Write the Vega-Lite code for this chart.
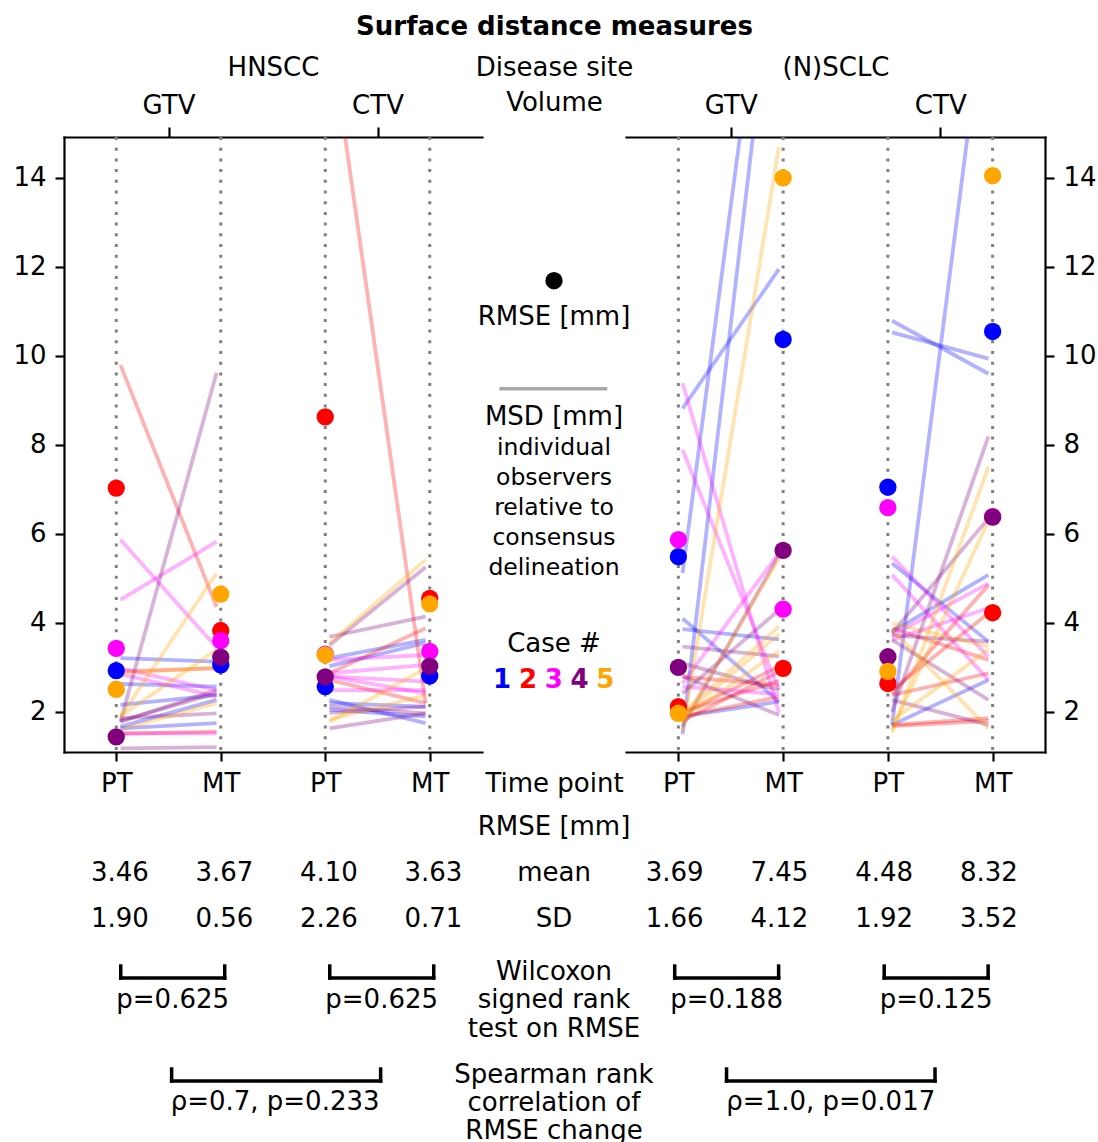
{
  "$schema": "https://vega.github.io/schema/vega-lite/v6.json",
  "background": "white",
  "padding": {"left": 12, "top": 14, "right": 0, "bottom": 0},
  "config": {
    "font": "DejaVu Sans",
    "view": {"stroke": null},
    "axis": {"grid": false, "labelFont": "DejaVu Sans", "labelFontSize": 26, "labelColor": "black", "titleFont": "DejaVu Sans", "titleFontSize": 26, "titleFontWeight": "normal", "titleColor": "black", "domainColor": "black", "domainWidth": 2.2, "domainCap": "square", "tickColor": "black", "tickWidth": 2.2, "tickSize": 9, "labelPadding": 9, "labelFlush": false, "labelOverlap": false},
    "text": {"font": "DejaVu Sans", "fontSize": 26, "color": "black"}
  },
  "title": {"text": "Surface distance measures", "font": "DejaVu Sans", "fontSize": 26, "fontWeight": "bold", "color": "black", "anchor": "middle", "offset": 14},
  "datasets": {
    "tps": [
      {"vol": "GTV", "tp": "PT"}, {"vol": "GTV", "tp": "MT"}, {"vol": "CTV", "tp": "PT"}, {"vol": "CTV", "tp": "MT"}
    ],
    "cases": [{"case": 1}, {"case": 2}, {"case": 3}, {"case": 4}, {"case": 5}],
    "rmse": [
      {"site": "HNSCC", "vol": "GTV", "tp": "PT", "case": 1, "rmse": 2.93},
      {"site": "HNSCC", "vol": "GTV", "tp": "MT", "case": 1, "rmse": 3.06},
      {"site": "HNSCC", "vol": "CTV", "tp": "PT", "case": 1, "rmse": 2.57},
      {"site": "HNSCC", "vol": "CTV", "tp": "MT", "case": 1, "rmse": 2.81},
      {"site": "(N)SCLC", "vol": "GTV", "tp": "PT", "case": 1, "rmse": 5.49},
      {"site": "(N)SCLC", "vol": "GTV", "tp": "MT", "case": 1, "rmse": 10.37},
      {"site": "(N)SCLC", "vol": "CTV", "tp": "PT", "case": 1, "rmse": 7.05},
      {"site": "(N)SCLC", "vol": "CTV", "tp": "MT", "case": 1, "rmse": 10.55},
      {"site": "HNSCC", "vol": "GTV", "tp": "PT", "case": 2, "rmse": 7.03},
      {"site": "HNSCC", "vol": "GTV", "tp": "MT", "case": 2, "rmse": 3.83},
      {"site": "HNSCC", "vol": "CTV", "tp": "PT", "case": 2, "rmse": 8.63},
      {"site": "HNSCC", "vol": "CTV", "tp": "MT", "case": 2, "rmse": 4.55},
      {"site": "(N)SCLC", "vol": "GTV", "tp": "PT", "case": 2, "rmse": 2.12},
      {"site": "(N)SCLC", "vol": "GTV", "tp": "MT", "case": 2, "rmse": 2.98},
      {"site": "(N)SCLC", "vol": "CTV", "tp": "PT", "case": 2, "rmse": 2.64},
      {"site": "(N)SCLC", "vol": "CTV", "tp": "MT", "case": 2, "rmse": 4.23},
      {"site": "HNSCC", "vol": "GTV", "tp": "PT", "case": 3, "rmse": 3.43},
      {"site": "HNSCC", "vol": "GTV", "tp": "MT", "case": 3, "rmse": 3.6},
      {"site": "HNSCC", "vol": "CTV", "tp": "PT", "case": 3, "rmse": 3.3},
      {"site": "HNSCC", "vol": "CTV", "tp": "MT", "case": 3, "rmse": 3.36},
      {"site": "(N)SCLC", "vol": "GTV", "tp": "PT", "case": 3, "rmse": 5.87},
      {"site": "(N)SCLC", "vol": "GTV", "tp": "MT", "case": 3, "rmse": 4.31},
      {"site": "(N)SCLC", "vol": "CTV", "tp": "PT", "case": 3, "rmse": 6.59},
      {"site": "(N)SCLC", "vol": "CTV", "tp": "MT", "case": 3, "rmse": 6.39},
      {"site": "HNSCC", "vol": "GTV", "tp": "PT", "case": 4, "rmse": 1.44},
      {"site": "HNSCC", "vol": "GTV", "tp": "MT", "case": 4, "rmse": 3.23},
      {"site": "HNSCC", "vol": "CTV", "tp": "PT", "case": 4, "rmse": 2.79},
      {"site": "HNSCC", "vol": "CTV", "tp": "MT", "case": 4, "rmse": 3.03},
      {"site": "(N)SCLC", "vol": "GTV", "tp": "PT", "case": 4, "rmse": 3.0},
      {"site": "(N)SCLC", "vol": "GTV", "tp": "MT", "case": 4, "rmse": 5.63},
      {"site": "(N)SCLC", "vol": "CTV", "tp": "PT", "case": 4, "rmse": 3.24},
      {"site": "(N)SCLC", "vol": "CTV", "tp": "MT", "case": 4, "rmse": 6.38},
      {"site": "HNSCC", "vol": "GTV", "tp": "PT", "case": 5, "rmse": 2.51},
      {"site": "HNSCC", "vol": "GTV", "tp": "MT", "case": 5, "rmse": 4.65},
      {"site": "HNSCC", "vol": "CTV", "tp": "PT", "case": 5, "rmse": 3.28},
      {"site": "HNSCC", "vol": "CTV", "tp": "MT", "case": 5, "rmse": 4.43},
      {"site": "(N)SCLC", "vol": "GTV", "tp": "PT", "case": 5, "rmse": 1.97},
      {"site": "(N)SCLC", "vol": "GTV", "tp": "MT", "case": 5, "rmse": 14.0},
      {"site": "(N)SCLC", "vol": "CTV", "tp": "PT", "case": 5, "rmse": 2.91},
      {"site": "(N)SCLC", "vol": "CTV", "tp": "MT", "case": 5, "rmse": 14.05}
    ],
    "msd": [
      {"site": "HNSCC", "vol": "GTV", "case": 1, "pt": 3.21, "mt": 3.13},
      {"site": "HNSCC", "vol": "GTV", "case": 1, "pt": 2.63, "mt": 2.57},
      {"site": "HNSCC", "vol": "GTV", "case": 1, "pt": 2.16, "mt": 2.38},
      {"site": "HNSCC", "vol": "GTV", "case": 1, "pt": 1.67, "mt": 2.27},
      {"site": "HNSCC", "vol": "GTV", "case": 1, "pt": 1.63, "mt": 1.75},
      {"site": "HNSCC", "vol": "GTV", "case": 2, "pt": 9.8, "mt": 4.36},
      {"site": "HNSCC", "vol": "GTV", "case": 2, "pt": 2.91, "mt": 2.98},
      {"site": "HNSCC", "vol": "GTV", "case": 2, "pt": 1.51, "mt": 1.56},
      {"site": "HNSCC", "vol": "GTV", "case": 3, "pt": 5.87, "mt": 3.45},
      {"site": "HNSCC", "vol": "GTV", "case": 3, "pt": 4.52, "mt": 5.83},
      {"site": "HNSCC", "vol": "GTV", "case": 3, "pt": 2.98, "mt": 2.49},
      {"site": "HNSCC", "vol": "GTV", "case": 3, "pt": 1.52, "mt": 1.52},
      {"site": "HNSCC", "vol": "GTV", "case": 3, "pt": 2.85, "mt": 2.35},
      {"site": "HNSCC", "vol": "GTV", "case": 4, "pt": 1.78, "mt": 9.62},
      {"site": "HNSCC", "vol": "GTV", "case": 4, "pt": 1.78, "mt": 2.49},
      {"site": "HNSCC", "vol": "GTV", "case": 4, "pt": 1.86, "mt": 1.97},
      {"site": "HNSCC", "vol": "GTV", "case": 4, "pt": 1.18, "mt": 1.21},
      {"site": "HNSCC", "vol": "GTV", "case": 4, "pt": 1.8, "mt": 2.42},
      {"site": "HNSCC", "vol": "GTV", "case": 5, "pt": 1.89, "mt": 5.12},
      {"site": "HNSCC", "vol": "GTV", "case": 5, "pt": 2.87, "mt": 3.0},
      {"site": "HNSCC", "vol": "GTV", "case": 5, "pt": 1.6, "mt": 2.2},
      {"site": "HNSCC", "vol": "GTV", "case": 5, "pt": 1.9, "mt": 3.4},
      {"site": "HNSCC", "vol": "CTV", "case": 1, "pt": 3.21, "mt": 3.62},
      {"site": "HNSCC", "vol": "CTV", "case": 1, "pt": 3.03, "mt": 3.55},
      {"site": "HNSCC", "vol": "CTV", "case": 1, "pt": 2.27, "mt": 1.75},
      {"site": "HNSCC", "vol": "CTV", "case": 1, "pt": 2.2, "mt": 2.12},
      {"site": "HNSCC", "vol": "CTV", "case": 1, "pt": 2.05, "mt": 1.9},
      {"site": "HNSCC", "vol": "CTV", "case": 2, "pt": 17.4, "mt": 2.2},
      {"site": "HNSCC", "vol": "CTV", "case": 2, "pt": 2.87, "mt": 3.88},
      {"site": "HNSCC", "vol": "CTV", "case": 2, "pt": 2.72, "mt": 2.2},
      {"site": "HNSCC", "vol": "CTV", "case": 3, "pt": 3.17, "mt": 3.28},
      {"site": "HNSCC", "vol": "CTV", "case": 3, "pt": 2.87, "mt": 3.06},
      {"site": "HNSCC", "vol": "CTV", "case": 3, "pt": 2.8, "mt": 2.68},
      {"site": "HNSCC", "vol": "CTV", "case": 3, "pt": 2.49, "mt": 2.49},
      {"site": "HNSCC", "vol": "CTV", "case": 3, "pt": 2.8, "mt": 2.42},
      {"site": "HNSCC", "vol": "CTV", "case": 4, "pt": 3.69, "mt": 4.14},
      {"site": "HNSCC", "vol": "CTV", "case": 4, "pt": 3.5, "mt": 5.25},
      {"site": "HNSCC", "vol": "CTV", "case": 4, "pt": 2.12, "mt": 1.97},
      {"site": "HNSCC", "vol": "CTV", "case": 4, "pt": 1.63, "mt": 1.97},
      {"site": "HNSCC", "vol": "CTV", "case": 4, "pt": 1.98, "mt": 2.12},
      {"site": "HNSCC", "vol": "CTV", "case": 5, "pt": 3.54, "mt": 5.42},
      {"site": "HNSCC", "vol": "CTV", "case": 5, "pt": 1.78, "mt": 2.98},
      {"site": "HNSCC", "vol": "CTV", "case": 5, "pt": 1.83, "mt": 2.38},
      {"site": "(N)SCLC", "vol": "GTV", "case": 1, "pt": 5.12, "mt": 21.6},
      {"site": "(N)SCLC", "vol": "GTV", "case": 1, "pt": 1.5, "mt": 19.9},
      {"site": "(N)SCLC", "vol": "GTV", "case": 1, "pt": 8.82, "mt": 11.95},
      {"site": "(N)SCLC", "vol": "GTV", "case": 1, "pt": 4.1, "mt": 2.23},
      {"site": "(N)SCLC", "vol": "GTV", "case": 1, "pt": 3.86, "mt": 3.63},
      {"site": "(N)SCLC", "vol": "GTV", "case": 1, "pt": 1.9, "mt": 2.23},
      {"site": "(N)SCLC", "vol": "GTV", "case": 2, "pt": 2.79, "mt": 2.6},
      {"site": "(N)SCLC", "vol": "GTV", "case": 2, "pt": 1.97, "mt": 3.02},
      {"site": "(N)SCLC", "vol": "GTV", "case": 2, "pt": 1.8, "mt": 2.9},
      {"site": "(N)SCLC", "vol": "GTV", "case": 2, "pt": 1.9, "mt": 2.34},
      {"site": "(N)SCLC", "vol": "GTV", "case": 2, "pt": 2.0, "mt": 2.7},
      {"site": "(N)SCLC", "vol": "GTV", "case": 3, "pt": 9.39, "mt": 1.98},
      {"site": "(N)SCLC", "vol": "GTV", "case": 3, "pt": 7.89, "mt": 2.5},
      {"site": "(N)SCLC", "vol": "GTV", "case": 3, "pt": 2.64, "mt": 5.57},
      {"site": "(N)SCLC", "vol": "GTV", "case": 3, "pt": 2.57, "mt": 2.4},
      {"site": "(N)SCLC", "vol": "GTV", "case": 4, "pt": 3.47, "mt": 3.25},
      {"site": "(N)SCLC", "vol": "GTV", "case": 4, "pt": 1.67, "mt": 5.53},
      {"site": "(N)SCLC", "vol": "GTV", "case": 4, "pt": 2.42, "mt": 4.29},
      {"site": "(N)SCLC", "vol": "GTV", "case": 4, "pt": 3.09, "mt": 2.49},
      {"site": "(N)SCLC", "vol": "GTV", "case": 4, "pt": 2.8, "mt": 1.93},
      {"site": "(N)SCLC", "vol": "GTV", "case": 5, "pt": 1.55, "mt": 14.7},
      {"site": "(N)SCLC", "vol": "GTV", "case": 5, "pt": 1.75, "mt": 5.45},
      {"site": "(N)SCLC", "vol": "GTV", "case": 5, "pt": 1.97, "mt": 3.92},
      {"site": "(N)SCLC", "vol": "GTV", "case": 5, "pt": 1.9, "mt": 3.75},
      {"site": "(N)SCLC", "vol": "GTV", "case": 5, "pt": 1.85, "mt": 3.37},
      {"site": "(N)SCLC", "vol": "CTV", "case": 1, "pt": 1.7, "mt": 18.6},
      {"site": "(N)SCLC", "vol": "CTV", "case": 1, "pt": 10.79, "mt": 9.6},
      {"site": "(N)SCLC", "vol": "CTV", "case": 1, "pt": 10.53, "mt": 9.94},
      {"site": "(N)SCLC", "vol": "CTV", "case": 1, "pt": 5.34, "mt": 3.58},
      {"site": "(N)SCLC", "vol": "CTV", "case": 1, "pt": 3.8, "mt": 5.08},
      {"site": "(N)SCLC", "vol": "CTV", "case": 1, "pt": 1.71, "mt": 2.72},
      {"site": "(N)SCLC", "vol": "CTV", "case": 2, "pt": 3.88, "mt": 3.17},
      {"site": "(N)SCLC", "vol": "CTV", "case": 2, "pt": 2.49, "mt": 4.22},
      {"site": "(N)SCLC", "vol": "CTV", "case": 2, "pt": 2.4, "mt": 4.85},
      {"site": "(N)SCLC", "vol": "CTV", "case": 2, "pt": 2.38, "mt": 2.87},
      {"site": "(N)SCLC", "vol": "CTV", "case": 2, "pt": 1.71, "mt": 1.86},
      {"site": "(N)SCLC", "vol": "CTV", "case": 2, "pt": 1.68, "mt": 1.8},
      {"site": "(N)SCLC", "vol": "CTV", "case": 3, "pt": 5.49, "mt": 3.24},
      {"site": "(N)SCLC", "vol": "CTV", "case": 3, "pt": 5.08, "mt": 2.72},
      {"site": "(N)SCLC", "vol": "CTV", "case": 3, "pt": 3.72, "mt": 4.89},
      {"site": "(N)SCLC", "vol": "CTV", "case": 3, "pt": 3.62, "mt": 4.33},
      {"site": "(N)SCLC", "vol": "CTV", "case": 4, "pt": 2.0, "mt": 8.19},
      {"site": "(N)SCLC", "vol": "CTV", "case": 4, "pt": 3.77, "mt": 6.35},
      {"site": "(N)SCLC", "vol": "CTV", "case": 4, "pt": 3.62, "mt": 2.27},
      {"site": "(N)SCLC", "vol": "CTV", "case": 4, "pt": 3.72, "mt": 3.58},
      {"site": "(N)SCLC", "vol": "CTV", "case": 4, "pt": 2.27, "mt": 1.71},
      {"site": "(N)SCLC", "vol": "CTV", "case": 5, "pt": 1.53, "mt": 7.51},
      {"site": "(N)SCLC", "vol": "CTV", "case": 5, "pt": 1.6, "mt": 6.3},
      {"site": "(N)SCLC", "vol": "CTV", "case": 5, "pt": 3.99, "mt": 3.47},
      {"site": "(N)SCLC", "vol": "CTV", "case": 5, "pt": 3.85, "mt": 1.63},
      {"site": "(N)SCLC", "vol": "CTV", "case": 5, "pt": 1.8, "mt": 3.4}
    ],
    "stats": [
      {"site": "HNSCC", "vol": "GTV", "tp": "PT", "mean": 3.46, "sd": 1.90},
      {"site": "HNSCC", "vol": "GTV", "tp": "MT", "mean": 3.67, "sd": 0.56},
      {"site": "HNSCC", "vol": "CTV", "tp": "PT", "mean": 4.10, "sd": 2.26},
      {"site": "HNSCC", "vol": "CTV", "tp": "MT", "mean": 3.63, "sd": 0.71},
      {"site": "(N)SCLC", "vol": "GTV", "tp": "PT", "mean": 3.69, "sd": 1.66},
      {"site": "(N)SCLC", "vol": "GTV", "tp": "MT", "mean": 7.45, "sd": 4.12},
      {"site": "(N)SCLC", "vol": "CTV", "tp": "PT", "mean": 4.48, "sd": 1.92},
      {"site": "(N)SCLC", "vol": "CTV", "tp": "MT", "mean": 8.32, "sd": 3.52}
    ],
    "wilcoxon": [
      {"site": "HNSCC", "vol": "GTV", "p": 0.625},
      {"site": "HNSCC", "vol": "CTV", "p": 0.625},
      {"site": "(N)SCLC", "vol": "GTV", "p": 0.188},
      {"site": "(N)SCLC", "vol": "CTV", "p": 0.125}
    ],
    "spearman": [
      {"site": "HNSCC", "rho": 0.7, "p": 0.233},
      {"site": "(N)SCLC", "rho": 1.0, "p": 0.017}
    ]
  },
  "columns": 3,
  "spacing": 0,
  "bounds": "flush",
  "concat": [
    {
      "width": 418, "height": 615,
      "layer": [
        {
          "data": {"name": "msd"},
          "transform": [
            {"filter": "datum.site == 'HNSCC'"},
            {"calculate": "(datum.vol == 'GTV' ? 0 : 2) + 0.04", "as": "xa"},
            {"calculate": "(datum.vol == 'GTV' ? 0 : 2) + 0.96", "as": "xb"}
          ],
          "mark": {"type": "rule", "strokeWidth": 3.8, "opacity": 0.3, "clip": true},
          "encoding": {
            "x": {"field": "xa", "type": "quantitative", "scale": {"domain": [-0.5, 3.5], "nice": false, "zero": false}, "axis": {"orient": "top", "values": [0.5, 2.5], "labelExpr": "datum.value < 1.5 ? 'GTV' : 'CTV'", "title": "HNSCC", "tickSize": 10, "labelPadding": 9, "titlePadding": 12}},
            "x2": {"field": "xb"},
            "y": {"field": "pt", "type": "quantitative", "scale": {"domain": [1.1, 14.92], "nice": false, "zero": false}, "axis": {"orient": "left", "values": [2, 4, 6, 8, 10, 12, 14], "title": null}},
            "y2": {"field": "mt"},
            "color": {"field": "case", "type": "nominal", "scale": {"domain": [1, 2, 3, 4, 5], "range": ["#0000ff", "#ff0000", "#ff00ff", "#800080", "#ffa500"]}, "legend": null}
          }
        },
        {
          "data": {"name": "tps"},
          "transform": [{"calculate": "(datum.vol == 'GTV' ? 0 : 2) + (datum.tp == 'PT' ? 0 : 1)", "as": "xp"}],
          "mark": {"type": "rule", "color": "#808080", "strokeWidth": 3, "strokeDash": [3, 7.7]},
          "encoding": {
            "x": {"field": "xp", "type": "quantitative", "scale": {"domain": [-0.5, 3.5], "nice": false, "zero": false}, "axis": {"orient": "bottom", "values": [0, 1, 2, 3], "labelExpr": "datum.value % 2 == 0 ? 'PT' : 'MT'", "title": null}}
          }
        },
        {
          "data": {"name": "rmse"},
          "transform": [
            {"filter": "datum.site == 'HNSCC'"},
            {"calculate": "(datum.vol == 'GTV' ? 0 : 2) + (datum.tp == 'PT' ? 0 : 1)", "as": "xp"}
          ],
          "mark": {"type": "point", "filled": true, "size": 300, "opacity": 1},
          "encoding": {
            "x": {"field": "xp", "type": "quantitative", "scale": {"domain": [-0.5, 3.5], "nice": false, "zero": false}, "axis": null},
            "y": {"field": "rmse", "type": "quantitative", "scale": {"domain": [1.1, 14.92], "nice": false, "zero": false}, "axis": {"orient": "left", "values": [2, 4, 6, 8, 10, 12, 14], "title": null}},
            "color": {"field": "case", "type": "nominal", "scale": {"domain": [1, 2, 3, 4, 5], "range": ["#0000ff", "#ff0000", "#ff00ff", "#800080", "#ffa500"]}, "legend": null}
          }
        }
      ],
      "resolve": {"axis": {"x": "independent"}}
    },
    {
      "width": 144, "height": 615,
      "data": {"values": [{}]},
      "layer": [
        {
          "mark": {"type": "point", "filled": true, "size": 300, "opacity": 1, "color": "black"},
          "encoding": {
            "x": {"datum": 0.5, "type": "quantitative", "scale": {"domain": [0, 1], "nice": false, "zero": false}, "axis": {"orient": "top", "values": [0.5], "labelExpr": "'Volume'", "title": "Disease site", "ticks": false, "tickSize": 0, "domain": false, "labelPadding": 22, "titlePadding": 9}},
            "y": {"datum": 11.69, "type": "quantitative", "scale": {"domain": [1.1, 14.92], "nice": false, "zero": false}, "axis": null}
          }
        },
        {
          "mark": {"type": "text", "text": "RMSE [mm]", "baseline": "middle"},
          "encoding": {
            "x": {"datum": 0.5, "type": "quantitative", "axis": {"orient": "bottom", "values": [0.5], "labelExpr": "'Time point'", "title": null, "ticks": false, "tickSize": 0, "domain": false, "labelPadding": 18}},
            "y": {"datum": 10.88, "type": "quantitative", "axis": null}
          }
        },
        {
          "mark": {"type": "rule", "color": "#aaaaaa", "strokeWidth": 3.5},
          "encoding": {
            "x": {"datum": 0.12, "type": "quantitative", "axis": null},
            "x2": {"datum": 0.87},
            "y": {"datum": 9.26, "type": "quantitative", "axis": null}
          }
        },
        {
          "mark": {"type": "text", "text": "MSD [mm]", "baseline": "middle"},
          "encoding": {
            "x": {"datum": 0.5, "type": "quantitative", "axis": null},
            "y": {"datum": 8.63, "type": "quantitative", "axis": null}
          }
        },
        {
          "mark": {"type": "text", "text": ["individual", "observers", "relative to", "consensus", "delineation"], "fontSize": 23.5, "lineHeight": 30, "baseline": "alphabetic"},
          "encoding": {
            "x": {"datum": 0.5, "type": "quantitative", "axis": null},
            "y": {"datum": 7.78, "type": "quantitative", "axis": null}
          }
        },
        {
          "mark": {"type": "text", "text": "Case #", "baseline": "middle"},
          "encoding": {
            "x": {"datum": 0.5, "type": "quantitative", "axis": null},
            "y": {"datum": 3.53, "type": "quantitative", "axis": null}
          }
        },
        {
          "data": {"name": "cases"},
          "transform": [{"calculate": "0.14 + (datum.case - 1) * 0.179", "as": "xc"}],
          "mark": {"type": "text", "fontWeight": "bold", "baseline": "middle"},
          "encoding": {
            "x": {"field": "xc", "type": "quantitative", "axis": null},
            "y": {"datum": 2.72, "type": "quantitative", "axis": null},
            "text": {"field": "case", "type": "nominal"},
            "color": {"field": "case", "type": "nominal", "scale": {"domain": [1, 2, 3, 4, 5], "range": ["#0000ff", "#ff0000", "#ff00ff", "#800080", "#ffa500"]}, "legend": null}
          }
        }
      ],
      "resolve": {"axis": {"x": "independent"}}
    },
    {
      "width": 419, "height": 615,
      "layer": [
        {
          "data": {"name": "msd"},
          "transform": [
            {"filter": "datum.site == '(N)SCLC'"},
            {"calculate": "(datum.vol == 'GTV' ? 0 : 2) + 0.04", "as": "xa"},
            {"calculate": "(datum.vol == 'GTV' ? 0 : 2) + 0.96", "as": "xb"}
          ],
          "mark": {"type": "rule", "strokeWidth": 3.8, "opacity": 0.3, "clip": true},
          "encoding": {
            "x": {"field": "xa", "type": "quantitative", "scale": {"domain": [-0.5, 3.5], "nice": false, "zero": false}, "axis": {"orient": "top", "values": [0.5, 2.5], "labelExpr": "datum.value < 1.5 ? 'GTV' : 'CTV'", "title": "(N)SCLC", "tickSize": 10, "labelPadding": 9, "titlePadding": 12}},
            "x2": {"field": "xb"},
            "y": {"field": "pt", "type": "quantitative", "scale": {"domain": [1.1, 14.92], "nice": false, "zero": false}, "axis": {"orient": "right", "values": [2, 4, 6, 8, 10, 12, 14], "title": null}},
            "y2": {"field": "mt"},
            "color": {"field": "case", "type": "nominal", "scale": {"domain": [1, 2, 3, 4, 5], "range": ["#0000ff", "#ff0000", "#ff00ff", "#800080", "#ffa500"]}, "legend": null}
          }
        },
        {
          "data": {"name": "tps"},
          "transform": [{"calculate": "(datum.vol == 'GTV' ? 0 : 2) + (datum.tp == 'PT' ? 0 : 1)", "as": "xp"}],
          "mark": {"type": "rule", "color": "#808080", "strokeWidth": 3, "strokeDash": [3, 7.7]},
          "encoding": {
            "x": {"field": "xp", "type": "quantitative", "scale": {"domain": [-0.5, 3.5], "nice": false, "zero": false}, "axis": {"orient": "bottom", "values": [0, 1, 2, 3], "labelExpr": "datum.value % 2 == 0 ? 'PT' : 'MT'", "title": null}}
          }
        },
        {
          "data": {"name": "rmse"},
          "transform": [
            {"filter": "datum.site == '(N)SCLC'"},
            {"calculate": "(datum.vol == 'GTV' ? 0 : 2) + (datum.tp == 'PT' ? 0 : 1)", "as": "xp"}
          ],
          "mark": {"type": "point", "filled": true, "size": 300, "opacity": 1},
          "encoding": {
            "x": {"field": "xp", "type": "quantitative", "scale": {"domain": [-0.5, 3.5], "nice": false, "zero": false}, "axis": null},
            "y": {"field": "rmse", "type": "quantitative", "scale": {"domain": [1.1, 14.92], "nice": false, "zero": false}, "axis": {"orient": "right", "values": [2, 4, 6, 8, 10, 12, 14], "title": null}},
            "color": {"field": "case", "type": "nominal", "scale": {"domain": [1, 2, 3, 4, 5], "range": ["#0000ff", "#ff0000", "#ff00ff", "#800080", "#ffa500"]}, "legend": null}
          }
        }
      ],
      "resolve": {"axis": {"x": "independent"}}
    },
    {
      "width": 418, "height": 390,
      "layer": [
        {
          "data": {"name": "stats"},
          "transform": [
            {"filter": "datum.site == 'HNSCC'"},
            {"calculate": "(datum.vol == 'GTV' ? 0 : 2) + (datum.tp == 'PT' ? 0 : 1) + 0.035", "as": "xt"}
          ],
          "mark": {"type": "text", "baseline": "middle"},
          "encoding": {
            "x": {"field": "xt", "type": "quantitative", "scale": {"domain": [-0.5, 3.5], "nice": false, "zero": false}, "axis": null},
            "y": {"datum": 5.28, "type": "quantitative", "scale": {"domain": [0, 17], "nice": false, "zero": false, "reverse": true}, "axis": null},
            "text": {"field": "mean", "type": "quantitative", "format": ".2f"}
          }
        },
        {
          "data": {"name": "stats"},
          "transform": [
            {"filter": "datum.site == 'HNSCC'"},
            {"calculate": "(datum.vol == 'GTV' ? 0 : 2) + (datum.tp == 'PT' ? 0 : 1) + 0.035", "as": "xt"}
          ],
          "mark": {"type": "text", "baseline": "middle"},
          "encoding": {
            "x": {"field": "xt", "type": "quantitative", "axis": null},
            "y": {"datum": 7.28, "type": "quantitative", "axis": null},
            "text": {"field": "sd", "type": "quantitative", "format": ".2f"}
          }
        },
        {
          "data": {"name": "wilcoxon"},
          "transform": [
            {"filter": "datum.site == 'HNSCC'"},
            {"calculate": "(datum.vol == 'GTV' ? 0 : 2) + 0.043", "as": "xa"},
            {"calculate": "(datum.vol == 'GTV' ? 0 : 2) + 1.038", "as": "xb"}
          ],
          "mark": {"type": "rule", "color": "black", "strokeWidth": 3.5, "strokeCap": "square"},
          "encoding": {
            "x": {"field": "xa", "type": "quantitative", "axis": null},
            "x2": {"field": "xb"},
            "y": {"datum": 9.85, "type": "quantitative", "axis": null}
          }
        },
        {
          "data": {"name": "wilcoxon"},
          "transform": [
            {"filter": "datum.site == 'HNSCC'"},
            {"calculate": "(datum.vol == 'GTV' ? 0 : 2) + 0.043", "as": "xa"},
            {"calculate": "(datum.vol == 'GTV' ? 0 : 2) + 1.038", "as": "xb"},
            {"fold": ["xa", "xb"], "as": ["end", "xe"]}
          ],
          "mark": {"type": "rule", "color": "black", "strokeWidth": 3.5, "strokeCap": "square"},
          "encoding": {
            "x": {"field": "xe", "type": "quantitative", "axis": null},
            "y": {"datum": 9.33, "type": "quantitative", "axis": null},
            "y2": {"datum": 9.85}
          }
        },
        {
          "data": {"name": "wilcoxon"},
          "transform": [
            {"filter": "datum.site == 'HNSCC'"},
            {"calculate": "(datum.vol == 'GTV' ? 0 : 2) + 0.54", "as": "xc"},
            {"calculate": "'p=' + format(datum.p, '.3f')", "as": "label"}
          ],
          "mark": {"type": "text", "baseline": "middle"},
          "encoding": {
            "x": {"field": "xc", "type": "quantitative", "axis": null},
            "y": {"datum": 10.8, "type": "quantitative", "axis": null},
            "text": {"field": "label"}
          }
        },
        {
          "data": {"name": "spearman"},
          "transform": [{"filter": "datum.site == 'HNSCC'"}],
          "mark": {"type": "rule", "color": "black", "strokeWidth": 3.5, "strokeCap": "square"},
          "encoding": {
            "x": {"datum": 0.53, "type": "quantitative", "axis": null},
            "x2": {"datum": 2.53},
            "y": {"datum": 14.34, "type": "quantitative", "axis": null}
          }
        },
        {
          "data": {"name": "spearman"},
          "transform": [{"filter": "datum.site == 'HNSCC'"}],
          "mark": {"type": "rule", "color": "black", "strokeWidth": 3.5, "strokeCap": "square"},
          "encoding": {
            "x": {"datum": 0.53, "type": "quantitative", "axis": null},
            "y": {"datum": 13.82, "type": "quantitative", "axis": null},
            "y2": {"datum": 14.34}
          }
        },
        {
          "data": {"name": "spearman"},
          "transform": [{"filter": "datum.site == 'HNSCC'"}],
          "mark": {"type": "rule", "color": "black", "strokeWidth": 3.5, "strokeCap": "square"},
          "encoding": {
            "x": {"datum": 2.53, "type": "quantitative", "axis": null},
            "y": {"datum": 13.82, "type": "quantitative", "axis": null},
            "y2": {"datum": 14.34}
          }
        },
        {
          "data": {"name": "spearman"},
          "transform": [
            {"filter": "datum.site == 'HNSCC'"},
            {"calculate": "'ρ=' + format(datum.rho, '.1f') + ', p=' + format(datum.p, '.3f')", "as": "label"}
          ],
          "mark": {"type": "text", "baseline": "middle"},
          "encoding": {
            "x": {"datum": 1.52, "type": "quantitative", "axis": null},
            "y": {"datum": 15.25, "type": "quantitative", "axis": null},
            "text": {"field": "label"}
          }
        }
      ]
    },
    {
      "width": 144, "height": 390,
      "data": {"values": [{}]},
      "layer": [
        {
          "mark": {"type": "text", "text": "RMSE [mm]", "baseline": "middle"},
          "encoding": {
            "x": {"datum": 0.5, "type": "quantitative", "scale": {"domain": [0, 1], "nice": false, "zero": false}, "axis": null},
            "y": {"datum": 3.27, "type": "quantitative", "scale": {"domain": [0, 17], "nice": false, "zero": false, "reverse": true}, "axis": null}
          }
        },
        {
          "mark": {"type": "text", "text": "mean", "baseline": "middle"},
          "encoding": {
            "x": {"datum": 0.5, "type": "quantitative", "axis": null},
            "y": {"datum": 5.28, "type": "quantitative", "axis": null}
          }
        },
        {
          "mark": {"type": "text", "text": "SD", "baseline": "middle"},
          "encoding": {
            "x": {"datum": 0.5, "type": "quantitative", "axis": null},
            "y": {"datum": 7.28, "type": "quantitative", "axis": null}
          }
        },
        {
          "mark": {"type": "text", "text": ["Wilcoxon", "signed rank", "test on RMSE"], "lineHeight": 28.5, "baseline": "alphabetic"},
          "encoding": {
            "x": {"datum": 0.5, "type": "quantitative", "axis": null},
            "y": {"datum": 9.93, "type": "quantitative", "axis": null}
          }
        },
        {
          "mark": {"type": "text", "text": ["Spearman rank", "correlation of", "RMSE change"], "lineHeight": 28, "baseline": "alphabetic"},
          "encoding": {
            "x": {"datum": 0.5, "type": "quantitative", "axis": null},
            "y": {"datum": 14.42, "type": "quantitative", "axis": null}
          }
        }
      ]
    },
    {
      "width": 419, "height": 390,
      "layer": [
        {
          "data": {"name": "stats"},
          "transform": [
            {"filter": "datum.site == '(N)SCLC'"},
            {"calculate": "(datum.vol == 'GTV' ? 0 : 2) + (datum.tp == 'PT' ? 0 : 1) - 0.035", "as": "xt"}
          ],
          "mark": {"type": "text", "baseline": "middle"},
          "encoding": {
            "x": {"field": "xt", "type": "quantitative", "scale": {"domain": [-0.5, 3.5], "nice": false, "zero": false}, "axis": null},
            "y": {"datum": 5.28, "type": "quantitative", "scale": {"domain": [0, 17], "nice": false, "zero": false, "reverse": true}, "axis": null},
            "text": {"field": "mean", "type": "quantitative", "format": ".2f"}
          }
        },
        {
          "data": {"name": "stats"},
          "transform": [
            {"filter": "datum.site == '(N)SCLC'"},
            {"calculate": "(datum.vol == 'GTV' ? 0 : 2) + (datum.tp == 'PT' ? 0 : 1) - 0.035", "as": "xt"}
          ],
          "mark": {"type": "text", "baseline": "middle"},
          "encoding": {
            "x": {"field": "xt", "type": "quantitative", "axis": null},
            "y": {"datum": 7.28, "type": "quantitative", "axis": null},
            "text": {"field": "sd", "type": "quantitative", "format": ".2f"}
          }
        },
        {
          "data": {"name": "wilcoxon"},
          "transform": [
            {"filter": "datum.site == '(N)SCLC'"},
            {"calculate": "(datum.vol == 'GTV' ? 0 : 2) - 0.035", "as": "xa"},
            {"calculate": "(datum.vol == 'GTV' ? 0 : 2) + 0.957", "as": "xb"}
          ],
          "mark": {"type": "rule", "color": "black", "strokeWidth": 3.5, "strokeCap": "square"},
          "encoding": {
            "x": {"field": "xa", "type": "quantitative", "axis": null},
            "x2": {"field": "xb"},
            "y": {"datum": 9.85, "type": "quantitative", "axis": null}
          }
        },
        {
          "data": {"name": "wilcoxon"},
          "transform": [
            {"filter": "datum.site == '(N)SCLC'"},
            {"calculate": "(datum.vol == 'GTV' ? 0 : 2) - 0.035", "as": "xa"},
            {"calculate": "(datum.vol == 'GTV' ? 0 : 2) + 0.957", "as": "xb"},
            {"fold": ["xa", "xb"], "as": ["end", "xe"]}
          ],
          "mark": {"type": "rule", "color": "black", "strokeWidth": 3.5, "strokeCap": "square"},
          "encoding": {
            "x": {"field": "xe", "type": "quantitative", "axis": null},
            "y": {"datum": 9.33, "type": "quantitative", "axis": null},
            "y2": {"datum": 9.85}
          }
        },
        {
          "data": {"name": "wilcoxon"},
          "transform": [
            {"filter": "datum.site == '(N)SCLC'"},
            {"calculate": "(datum.vol == 'GTV' ? 0 : 2) + 0.46", "as": "xc"},
            {"calculate": "'p=' + format(datum.p, '.3f')", "as": "label"}
          ],
          "mark": {"type": "text", "baseline": "middle"},
          "encoding": {
            "x": {"field": "xc", "type": "quantitative", "axis": null},
            "y": {"datum": 10.8, "type": "quantitative", "axis": null},
            "text": {"field": "label"}
          }
        },
        {
          "data": {"name": "spearman"},
          "transform": [{"filter": "datum.site == '(N)SCLC'"}],
          "mark": {"type": "rule", "color": "black", "strokeWidth": 3.5, "strokeCap": "square"},
          "encoding": {
            "x": {"datum": 0.46, "type": "quantitative", "axis": null},
            "x2": {"datum": 2.45},
            "y": {"datum": 14.34, "type": "quantitative", "axis": null}
          }
        },
        {
          "data": {"name": "spearman"},
          "transform": [{"filter": "datum.site == '(N)SCLC'"}],
          "mark": {"type": "rule", "color": "black", "strokeWidth": 3.5, "strokeCap": "square"},
          "encoding": {
            "x": {"datum": 0.46, "type": "quantitative", "axis": null},
            "y": {"datum": 13.82, "type": "quantitative", "axis": null},
            "y2": {"datum": 14.34}
          }
        },
        {
          "data": {"name": "spearman"},
          "transform": [{"filter": "datum.site == '(N)SCLC'"}],
          "mark": {"type": "rule", "color": "black", "strokeWidth": 3.5, "strokeCap": "square"},
          "encoding": {
            "x": {"datum": 2.45, "type": "quantitative", "axis": null},
            "y": {"datum": 13.82, "type": "quantitative", "axis": null},
            "y2": {"datum": 14.34}
          }
        },
        {
          "data": {"name": "spearman"},
          "transform": [
            {"filter": "datum.site == '(N)SCLC'"},
            {"calculate": "'ρ=' + format(datum.rho, '.1f') + ', p=' + format(datum.p, '.3f')", "as": "label"}
          ],
          "mark": {"type": "text", "baseline": "middle"},
          "encoding": {
            "x": {"datum": 1.455, "type": "quantitative", "axis": null},
            "y": {"datum": 15.25, "type": "quantitative", "axis": null},
            "text": {"field": "label"}
          }
        }
      ]
    }
  ]
}
